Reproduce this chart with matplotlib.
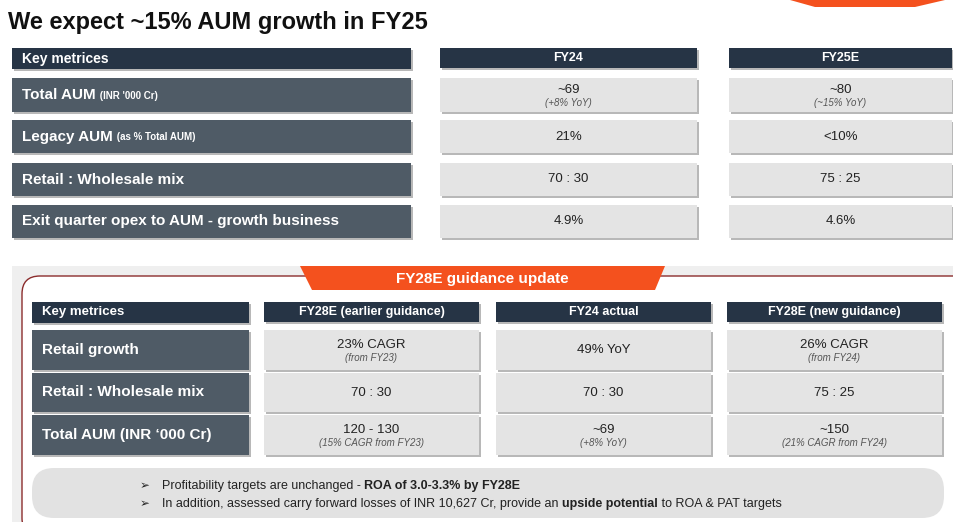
import matplotlib.pyplot as plt
from matplotlib.patches import Rectangle, FancyBboxPatch, Polygon

plt.rcParams['font.family'] = ['Liberation Sans', 'DejaVu Sans']

NAVY = '#263445'
SLATE = '#4f5b66'
CELL = '#e4e4e4'
ORANGE = '#f4511e'

title = "We expect ~15% AUM growth in FY25"

# top table
top_cols = ['FY24', 'FY25E']
top_rows = [('Total AUM', " (INR '000 Cr)"), ('Legacy AUM', ' (as % Total AUM)'),
            ('Retail : Wholesale mix', ''), ('Exit quarter opex to AUM - growth business', '')]
top_vals = [[('~69', '(+8% YoY)'), ('~80', '(~15% YoY)')],
            [('21%', ''), ('<10%', '')],
            [('70 : 30', ''), ('75 : 25', '')],
            [('4.9%', ''), ('4.6%', '')]]

# bottom table
bot_cols = ['FY28E (earlier guidance)', 'FY24 actual', 'FY28E (new guidance)']
bot_rows = ['Retail growth', 'Retail : Wholesale mix', "Total AUM (INR \u2018000 Cr)"]
bot_vals = [[('23% CAGR', '(from FY23)'), ('49% YoY', ''), ('26% CAGR', '(from FY24)')],
            [('70 : 30', ''), ('70 : 30', ''), ('75 : 25', '')],
            [('120 - 130', '(15% CAGR from FY23)'), ('~69', '(+8% YoY)'), ('~150', '(21% CAGR from FY24)')]]

bullets = [[('Profitability targets are unchanged - ', 'normal'), ('ROA of 3.0-3.3% by FY28E', 'bold')],
           [('In addition, assessed carry forward losses of INR 10,627 Cr, provide an ', 'normal'),
            ('upside potential', 'bold'), (' to ROA & PAT targets', 'normal')]]

fig = plt.figure(figsize=(9.54, 5.22), dpi=100)
ax = fig.add_axes([0, 0, 1, 1])
ax.set_xlim(0, 954)
ax.set_ylim(522, 0)
ax.axis('off')


def box(x0, y0, x1, y1, color, shadow=True):
    if shadow:
        ax.add_patch(Rectangle((x0 + 2, y0 + 2), x1 - x0, y1 - y0, color='#b8b8b8', lw=0))
    ax.add_patch(Rectangle((x0, y0), x1 - x0, y1 - y0, color=color, lw=0))


def cell_text(xc, y0, y1, main, sub, size=9.5, subsize=7):
    ym = (y0 + y1) / 2
    if sub:
        ax.text(xc, ym - 5, main, ha='center', va='center', fontsize=size, color='#222')
        ax.text(xc, ym + 8, sub, ha='center', va='center', fontsize=subsize, color='#555', style='italic')
    else:
        ax.text(xc, ym, main, ha='center', va='center', fontsize=size, color='#222')


# title and top decoration
ax.text(8, 22, title, fontsize=17, fontweight='bold', color='#111', va='center')
ax.add_patch(Polygon([(790, 0), (945, 0), (915, 7), (815, 7)], color=ORANGE, lw=0))

# top table
tx = [(440, 697), (729, 952)]
box(12, 48, 411, 69, NAVY)
ax.text(22, 58.5, 'Key metrices', color='white', fontsize=10, fontweight='bold', va='center')
for (x0, x1), c in zip(tx, top_cols):
    box(x0, 48, x1, 68, NAVY)
    ax.text((x0 + x1) / 2, 58, c, color='white', fontsize=9, fontweight='bold', ha='center', va='center')
ty = [(78, 112), (120, 153), (163, 196), (205, 238)]
for (y0, y1), (lab, sub), vals in zip(ty, top_rows, top_vals):
    box(12, y0, 411, y1, SLATE)
    t = ax.text(22, (y0 + y1) / 2, lab, color='white', fontsize=11, fontweight='bold', va='center')
    if sub:
        fig.canvas.draw()
        bb = t.get_window_extent().transformed(ax.transData.inverted())
        ax.text(bb.x1 + 1, (y0 + y1) / 2 + 1, sub, color='white', fontsize=7, fontweight='bold', va='center')
    for (x0, x1), (m, s) in zip(tx, vals):
        box(x0, y0, x1, y1, CELL)
        cell_text((x0 + x1) / 2, y0, y1, m, s)

# bottom section
ax.add_patch(Rectangle((12, 266), 942, 256, color='#efefef', lw=0))
ax.add_patch(FancyBboxPatch((22, 276), 950, 260, boxstyle='round,pad=0,rounding_size=18',
                            fc='white', ec='#8b2c2c', lw=1))
ax.add_patch(Polygon([(300, 266), (665, 266), (655, 290), (312, 290)], color=ORANGE, lw=0))
ax.text(482, 279, 'FY28E guidance update', color='white', fontsize=11, fontweight='bold', ha='center', va='center')

bx = [(264, 479), (496, 711), (727, 942)]
box(32, 302, 249, 323, NAVY)
ax.text(42, 312.5, 'Key metrices', color='white', fontsize=9.5, fontweight='bold', va='center')
for (x0, x1), c in zip(bx, bot_cols):
    box(x0, 302, x1, 322, NAVY)
    ax.text((x0 + x1) / 2, 312, c, color='white', fontsize=9, fontweight='bold', ha='center', va='center')
by = [(330, 370), (373, 412), (415, 455)]
for (y0, y1), lab, vals in zip(by, bot_rows, bot_vals):
    box(32, y0, 249, y1, SLATE)
    ax.text(42, (y0 + y1) / 2, lab, color='white', fontsize=11, fontweight='bold', va='center')
    for (x0, x1), (m, s) in zip(bx, vals):
        box(x0, y0, x1, y1, CELL)
        cell_text((x0 + x1) / 2, y0, y1, m, s)

# bullet box
ax.add_patch(FancyBboxPatch((32, 468), 912, 50, boxstyle='round,pad=0,rounding_size=22',
                            fc='#e2e2e2', ec='none'))
fig.canvas.draw()
for yy, parts in zip([486, 504], bullets):
    ax.text(140, yy, '\u27a2', fontsize=8.5, va='center', color='#222', family=['DejaVu Sans'])
    x = 162
    for txt, w in parts:
        t = ax.text(x, yy, txt, fontsize=9, fontweight=w, va='center', color='#222')
        fig.canvas.draw()
        x = t.get_window_extent().transformed(ax.transData.inverted()).x1

fig.savefig('out.png', dpi=100)
